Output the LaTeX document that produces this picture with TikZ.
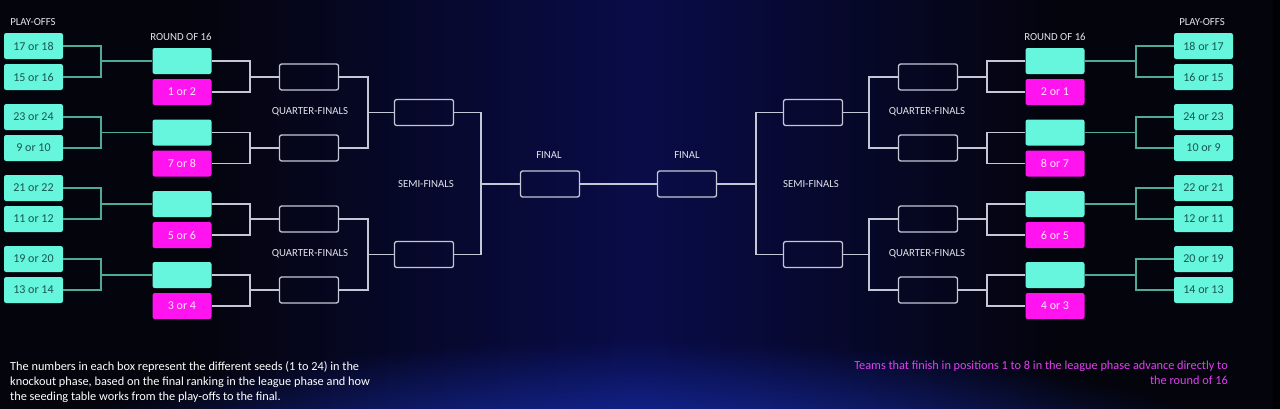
\documentclass[tikz,border=0pt]{standalone}
\usepackage{fontspec}
\setmainfont{Carlito}
\usetikzlibrary{fadings,calc}
\definecolor{bgdark}{HTML}{04040C}
\definecolor{bgnavy}{HTML}{090C48}
\definecolor{glow}{HTML}{1A32B8}
\definecolor{cyanbox}{HTML}{66F5DD}
\definecolor{cyantext}{HTML}{1A5650}
\definecolor{magbox}{HTML}{FF14F0}
\definecolor{magtext}{HTML}{FFE6FF}
\definecolor{tealline}{HTML}{4FAA98}
\definecolor{greyline}{HTML}{C4C8D6}
\definecolor{labeltext}{HTML}{E2E2EA}
\definecolor{pinktext}{HTML}{E040F0}
\tikzfading[name=softglow,inner color=transparent!0,outer color=transparent!100]
\tikzset{
  box/.style={minimum width=59pt,minimum height=26pt,inner sep=0pt,rounded corners=2.2pt,font=\fontsize{12}{14}\selectfont},
  pobox/.style={box,fill=cyanbox,text=cyantext},
  cybox/.style={box,fill=cyanbox},
  mgbox/.style={box,fill=magbox,text=magtext},
  outbox/.style={box,draw=greyline,line width=1.3pt},
  tealconn/.style={draw=tealline,line width=1.2pt},
  greyconn/.style={draw=greyline,line width=1.2pt},
  lbl/.style={text=labeltext,font=\fontsize{10.8}{12}\selectfont,inner sep=0pt},
}
\begin{document}
\begin{tikzpicture}[x=1pt,y=-1pt]
\useasboundingbox (0,0) rectangle (1280,408);
% background
\fill[bgdark] (-10,-10) rectangle (1290,420);
\shade[left color=bgdark,right color=bgnavy] (190,-10) rectangle (640.5,420);
\shade[left color=bgnavy,right color=bgdark] (639.5,-10) rectangle (1060,420);
\fill[glow,opacity=0.9,path fading=softglow] (640,455) ellipse (600 and 115);
\fill[black,opacity=0.5] (1273,-10) rectangle (1290,420);
% ---------- LEFT SIDE ----------
\foreach \n/\y/\t in {1/46/17 or 18,2/77/15 or 16,3/117/23 or 24,4/148/9 or 10,5/188/21 or 22,6/219/11 or 12,7/259/19 or 20,8/290/13 or 14}
  \node[pobox] (lp\n) at (33.5,\y) {\t};
\foreach \n/\y/\t in {1/61/1 or 2,2/132.5/7 or 8,3/204/5 or 6,4/275/3 or 4}{
  \node[cybox] (lc\n) at (182,\y) {};
  \node[mgbox] (lm\n) at (182,\y+31) {\t};
}
\foreach \n/\y in {1/77,2/148,3/219,4/290}
  \node[outbox] (lq\n) at (309,\y) {};
\node[outbox] (ls1) at (424,112.5) {};
\node[outbox] (ls2) at (424,254.5) {};
\node[outbox] (lf) at (550,184) {};
% ---------- RIGHT SIDE ----------
\foreach \n/\y/\t in {1/46/18 or 17,2/77/16 or 15,3/117/24 or 23,4/148/10 or 9,5/188/22 or 21,6/219/12 or 11,7/259/20 or 19,8/290/14 or 13}
  \node[pobox] (rp\n) at (1203.5,\y) {\t};
\foreach \n/\y/\t in {1/61/2 or 1,2/132.5/8 or 7,3/204/6 or 5,4/275/4 or 3}{
  \node[cybox] (rc\n) at (1055,\y) {};
  \node[mgbox] (rm\n) at (1055,\y+31) {\t};
}
\foreach \n/\y in {1/77,2/148,3/219,4/290}
  \node[outbox] (rq\n) at (928,\y) {};
\node[outbox] (rs1) at (813,112.5) {};
\node[outbox] (rs2) at (813,254.5) {};
\node[outbox] (rf) at (687,184) {};
% junction x positions
\coordinate (jl1) at (101,0);
\coordinate (jl2) at (250,0);
\coordinate (jl3) at (368,0);
\coordinate (jl4) at (481,0);
\coordinate (jr1) at (1136,0);
\coordinate (jr2) at (987,0);
\coordinate (jr3) at (869,0);
\coordinate (jr4) at (756,0);
% left connectors
\foreach \a/\b/\t in {lp1/lp2/lc1,lp3/lp4/lc2,lp5/lp6/lc3,lp7/lp8/lc4}{
  \draw[tealconn] (\a.east) -| (jl1 |- \b.east) -- (\b.east);
  \draw[tealconn] (jl1 |- \t.west) -- (\t.west);
}
\foreach \a/\b/\t in {lc1/lm1/lq1,lc2/lm2/lq2,lc3/lm3/lq3,lc4/lm4/lq4}{
  \draw[greyconn] (\a.east) -| (jl2 |- \b.east) -- (\b.east);
  \draw[greyconn] (jl2 |- \t.west) -- (\t.west);
}
\foreach \a/\b/\t in {lq1/lq2/ls1,lq3/lq4/ls2}{
  \draw[greyconn] (\a.east) -| (jl3 |- \b.east) -- (\b.east);
  \draw[greyconn] (jl3 |- \t.west) -- (\t.west);
}
\draw[greyconn] (ls1.east) -| (jl4 |- ls2.east) -- (ls2.east);
\draw[greyconn] (jl4 |- lf.west) -- (lf.west);
% right connectors
\foreach \a/\b/\t in {rp1/rp2/rc1,rp3/rp4/rc2,rp5/rp6/rc3,rp7/rp8/rc4}{
  \draw[tealconn] (\a.west) -| (jr1 |- \b.west) -- (\b.west);
  \draw[tealconn] (jr1 |- \t.east) -- (\t.east);
}
\foreach \a/\b/\t in {rc1/rm1/rq1,rc2/rm2/rq2,rc3/rm3/rq3,rc4/rm4/rq4}{
  \draw[greyconn] (\a.west) -| (jr2 |- \b.west) -- (\b.west);
  \draw[greyconn] (jr2 |- \t.east) -- (\t.east);
}
\foreach \a/\b/\t in {rq1/rq2/rs1,rq3/rq4/rs2}{
  \draw[greyconn] (\a.west) -| (jr3 |- \b.west) -- (\b.west);
  \draw[greyconn] (jr3 |- \t.east) -- (\t.east);
}
\draw[greyconn] (rs1.west) -| (jr4 |- rs2.west) -- (rs2.west);
\draw[greyconn] (jr4 |- rf.east) -- (rf.east);
% final link
\draw[greyconn] (lf.east) -- (rf.west);
% labels
\node[lbl] (tpl) at (33,22) {PLAY-OFFS};
\node[lbl] (tpr) at (1202,22) {PLAY-OFFS};
\node[lbl] (trl) at (181,37) {ROUND OF 16};
\node[lbl] (trr) at (1055,37) {ROUND OF 16};
\node[lbl] (tql1) at (310,112) {QUARTER-FINALS};
\node[lbl] (tql2) at (310,254) {QUARTER-FINALS};
\node[lbl] (tqr1) at (927,112) {QUARTER-FINALS};
\node[lbl] (tqr2) at (927,254) {QUARTER-FINALS};
\node[lbl] (tsl) at (426,184) {SEMI-FINALS};
\node[lbl] (tsr) at (811,184) {SEMI-FINALS};
\node[lbl] (tfl) at (549,155) {FINAL};
\node[lbl] (tfr) at (687,155) {FINAL};
% notes
\node[anchor=north west,inner sep=0pt,text=white,align=left,font=\fontsize{12.3}{15}\selectfont] (noteL) at (10,361)
  {The numbers in each box represent the different seeds (1 to 24) in the\\knockout phase, based on the final ranking in the league phase and how\\the seeding table works from the play-offs to the final.};
\node[anchor=north east,inner sep=0pt,text=pinktext,align=right,font=\fontsize{12.3}{15}\selectfont] (noteR) at (1228,361)
  {Teams that finish in positions 1 to 8 in the league phase advance directly to\\the round of 16};
\end{tikzpicture}
\end{document}
